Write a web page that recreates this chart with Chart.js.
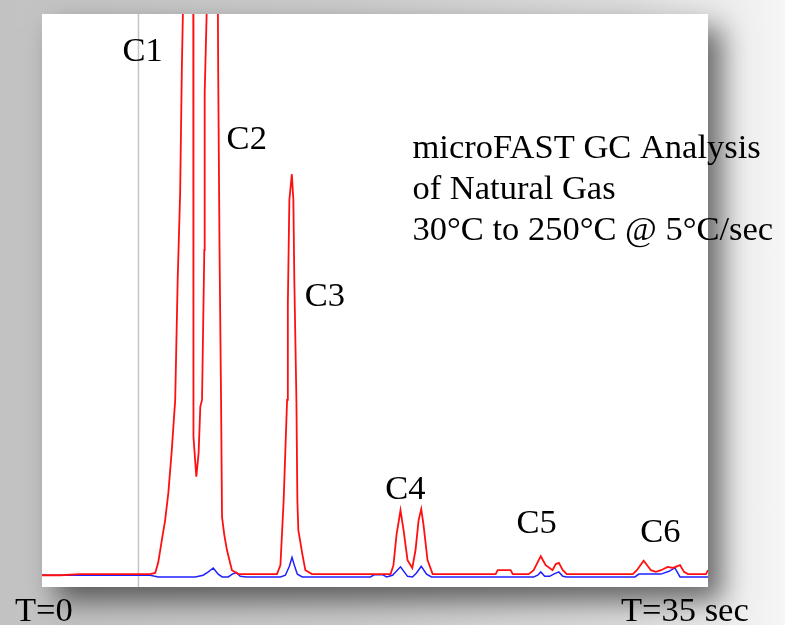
<!DOCTYPE html>
<html>
<head>
<meta charset="utf-8">
<script src="https://cdn.jsdelivr.net/npm/chart.js@4.4.1/dist/chart.umd.min.js"></script>
<style>
  html, body { margin: 0; padding: 0; }
  body {
    width: 785px; height: 625px; overflow: hidden; position: relative;
    background: linear-gradient(to right, #c2c2c2 0%, #cbcbcb 45%, #dcdcdc 80%, #f6f6f6 100%);
  }
  #plate {
    position: absolute; left: 42px; top: 14px; width: 666px; height: 573px;
    background: #fff;
    box-shadow: 14px 14px 26px rgba(0,0,0,0.55);
  }
  #chart { position: absolute; left: 0; top: 0; }
</style>
</head>
<body>
<div id="plate"></div>
<canvas id="chart" width="785" height="625"></canvas>
<script>
// Chromatogram: time in seconds, detector signal in arbitrary units
const redTime = [0, 0.95, 2.0, 3.05, 4.1, 5.16, 5.68, 5.95, 6.11, 6.3, 6.47, 6.64, 6.82, 7.0, 7.13, 7.26, 7.35,
    7.63, 7.95, 7.96, 8.11, 8.23, 8.32, 8.41, 8.53, 8.55, 8.67, 8.89, 9.24, 9.26, 9.33, 9.41, 9.46, 9.58, 9.72, 9.98, 10.32,
    12.35, 12.53, 12.7, 12.79, 12.88, 12.92, 13.0, 13.13, 13.21, 13.26, 13.37, 13.42, 13.47, 13.67, 13.84, 14.19,
    18.32, 18.47, 18.63, 18.84, 19.0, 19.21, 19.46, 19.63, 19.79, 19.93, 20.05, 20.26, 20.53,
    23.84, 23.95, 24.63, 24.74,
    25.58, 25.84, 26.21, 26.47, 26.83, 27.0, 27.16, 27.37, 27.58,
    31.05, 31.26, 31.62, 32.0, 32.26, 32.53, 32.88, 33.16, 33.53, 33.74, 33.95, 34.89, 35.0];
const redSignal = [-0.2, -0.2, 0, 0, 0, 0, 0, 0.2, 2.1, 6.1, 9.6, 14.5, 22.1, 31.1, 52.5, 68.0, 90.4,
    140, 102.5, 24.5, 17.4, 21.6, 29.9, 31.1, 57.9, 85.9, 102.5, 150, 102.5, 89.5, 57.9, 31.1, 10.2, 7.0, 4.3, 0.7, 0,
    0, 1.6, 13.2, 22.1, 31.1, 48.2, 66.8, 71.4, 66.8, 52.5, 31.1, 13.2, 7.9, 3.8, 0.7, 0,
    0, 1.6, 7.0, 11.4, 7.9, 2.5, 1.1, 4.3, 9.6, 11.6, 8.8, 2.5, 0,
    0, 0.7, 0.7, 0,
    0, 0.7, 3.2, 1.6, 0.7, 1.8, 2.0, 0.7, 0,
    0, 0.7, 2.4, 0.7, 0.4, 0.7, 1.3, 1.1, 1.6, 0.4, 0, 0, 0.7];

const blueTime = [0, 5.68, 6.11, 8.05, 8.47, 8.74, 9.0, 9.26, 9.47, 9.79, 10.0, 10.21, 10.42, 10.74,
    12.53, 12.79, 13.0, 13.14, 13.26, 13.42, 13.68,
    17.26, 17.47, 17.89, 18.11, 18.42, 18.84, 19.21, 19.47, 19.68, 19.93, 20.21, 20.47,
    25.84, 26.05, 26.21, 26.42, 26.68, 26.89, 27.16, 27.37, 27.58,
    31.16, 31.37, 32.0, 32.53, 32.95, 33.26, 33.53, 35.0];
const blueSignal = [-0.2, -0.2, -0.5, -0.5, -0.2, 0.4, 1.1, 0, -0.5, -0.5, 0, 0.3, -0.4, -0.5,
    -0.5, -0.2, 1.4, 3.0, 1.6, 0, -0.5,
    -0.5, -0.1, -0.1, -0.5, -0.2, 1.3, -0.4, -0.5, 0.2, 1.4, 0, -0.5,
    -0.5, -0.2, 0.4, -0.4, -0.4, 0, 0.4, -0.4, -0.5,
    -0.5, 0, 0, 0, 0.5, 1.1, -0.5, -0.5];

const injectionTime = 5.07;

const peakNames = ['C1', 'C2', 'C3', 'C4', 'C5', 'C6'];
const peakLabelTime = [5.29, 10.76, 14.87, 19.1, 26.0, 32.5];
const peakLabelSignal = [93.2, 77.5, 49.5, 15.0, 8.9, 7.3];

const noteLines = ['microFAST GC Analysis', 'of Natural Gas', '30\u00b0C to 250\u00b0C @ 5\u00b0C/sec'];
const timeLabels = ['T=0', 'T=35 sec'];

const SERIF = '"Liberation Serif", "DejaVu Serif", serif';

const toPoints = (xs, ys) => xs.map((x, i) => ({ x: x, y: ys[i] }));

const labelPlugin = {
    id: 'gcLabels',
    afterDatasetsDraw(chart) {
        const { ctx, scales: { x, y }, chartArea } = chart;
        ctx.save();
        ctx.fillStyle = '#000';
        ctx.font = '34.5px ' + SERIF;
        ctx.textBaseline = 'middle';

        // peak names
        ctx.textAlign = 'center';
        peakNames.forEach((name, i) => {
            ctx.fillText(name, x.getPixelForValue(peakLabelTime[i]), y.getPixelForValue(peakLabelSignal[i]));
        });

        // method note
        ctx.textAlign = 'left';
        const noteX = x.getPixelForValue(19.47);
        noteLines.forEach((line, i) => {
            ctx.fillText(line, noteX, y.getPixelForValue(76.1) + 1 + i * 41);
        });

        // time markers under the trace
        const below = chartArea.bottom + 25;
        ctx.fillText(timeLabels[0], chartArea.left - 27, below);
        ctx.fillText(timeLabels[1], chartArea.right - 87, below);
        ctx.restore();
    }
};

new Chart(document.getElementById('chart'), {
    type: 'line',
    data: {
        datasets: [{
            label: 'TCD',
            data: toPoints(redTime, redSignal),
            borderColor: '#ff1010',
            borderWidth: 1.8,
            pointRadius: 0,
            order: 1
        }, {
            label: 'FID',
            data: toPoints(blueTime, blueSignal),
            borderColor: '#2020ff',
            borderWidth: 1.5,
            pointRadius: 0,
            order: 2
        }, {
            label: 'start',
            data: [{ x: injectionTime, y: -3 }, { x: injectionTime, y: 110 }],
            borderColor: '#c4c4c4',
            borderWidth: 1.5,
            pointRadius: 0,
            order: 3
        }]
    },
    options: {
        responsive: false,
        animation: false,
        layout: { padding: { left: 42, top: 14, right: 77, bottom: 38 } },
        plugins: {
            legend: { display: false },
            tooltip: { enabled: false }
        },
        scales: {
            x: { type: 'linear', min: 0, max: 35, display: false },
            y: { min: -2.3, max: 100, display: false }
        }
    },
    plugins: [labelPlugin]
});
</script>
</body>
</html>
